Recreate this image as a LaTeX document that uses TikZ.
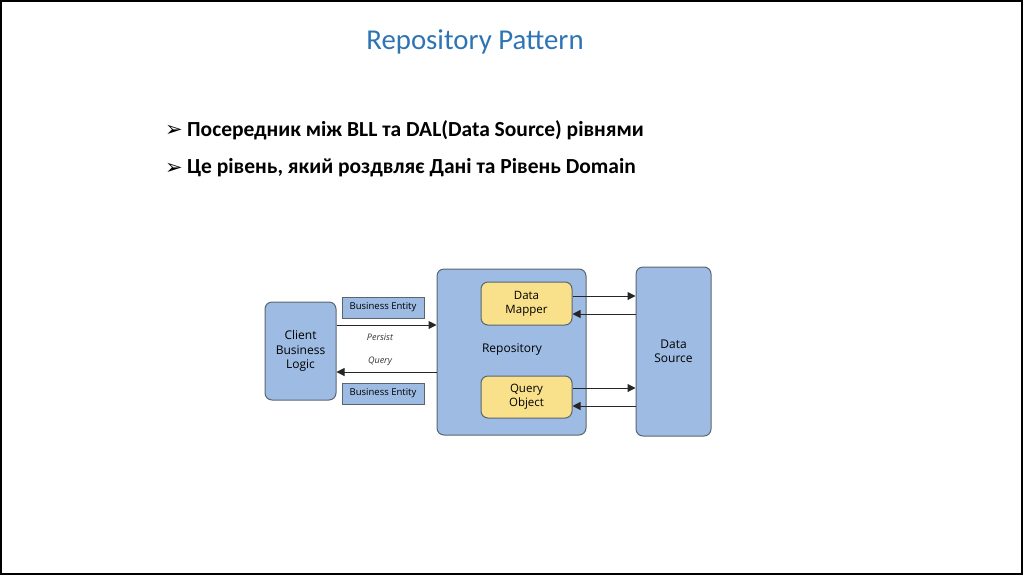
\documentclass[tikz,border=0pt]{standalone}
\usepackage{fontspec}
\setmainfont{Carlito}
\newfontfamily\symfont{DejaVu Sans}
\newfontfamily\diafont{Open Sans}
\usetikzlibrary{arrows.meta}
\definecolor{titleblue}{HTML}{2E74B5}
\definecolor{boxblue}{HTML}{9DBBE3}
\definecolor{boxyellow}{HTML}{F9E08A}
\definecolor{edgegray}{HTML}{5B6570}
\begin{document}
\begin{tikzpicture}[x=1pt,y=-1pt,
  blk/.style={draw=edgegray,line width=1pt,fill=boxblue,rounded corners=7pt,align=center,inner sep=0pt,font=\diafont\fontsize{12}{14.5}\selectfont},
  ybox/.style={draw=edgegray,line width=1pt,fill=boxyellow,rounded corners=7pt,align=center,inner sep=0pt,font=\diafont\fontsize{11.5}{14}\selectfont},
  ent/.style={draw=edgegray,line width=0.8pt,fill=boxblue,inner sep=0pt,font=\diafont\fontsize{9.5}{11}\selectfont},
  conn/.style={line width=1pt,draw=black!85,-{Triangle[length=8pt,width=8pt]}},
  lbl/.style={font=\diafont\itshape\fontsize{9}{11}\selectfont,text=black!80},
  bullet/.style={anchor=west,font=\bfseries\fontsize{21.5}{25}\selectfont,inner sep=0pt},
  bmark/.style={anchor=west,inner sep=0pt,font=\symfont\fontsize{21}{23}\selectfont}]
\useasboundingbox (0,0) rectangle (1024,576);
\draw[black,line width=1.5pt] (1,1) rectangle (1022,574);
\node[text=titleblue,font=\fontsize{28.8}{32}\selectfont] (title) at (475,42) {Repository Pattern};
\node[bmark] (b1) at (165,131) {➢};
\node[bullet] (t1) at (187,130) {Посередник між BLL та DAL(Data Source) рівнями};
\node[bmark] (b2) at (165,169) {➢};
\node[bullet] (t2) at (187,168) {Це рівень, який роздвляє Дані та Рівень Domain};
% diagram
\node[blk,minimum width=71pt,minimum height=98pt] (client) at (300.5,351) {Client\\Business\\Logic};
\node[ent,minimum width=82pt,minimum height=21pt] (be1) at (383,307.5) {Business Entity};
\node[ent,minimum width=82pt,minimum height=21pt] (be2) at (383,393.5) {Business Entity};
\node[blk,minimum width=149pt,minimum height=166pt] (repo) at (511.5,352) {};
\node[font=\diafont\fontsize{12}{14}\selectfont] (repolbl) at (512,350) {Repository};
\node[ybox,minimum width=91pt,minimum height=43pt] (dm) at (526.5,303.5) {Data\\Mapper};
\node[ybox,minimum width=91pt,minimum height=42pt] (qo) at (526.5,397) {Query\\Object};
\node[blk,minimum width=75pt,minimum height=169pt] (ds) at (673.5,351.5) {Data\\Source};
% connectors
\draw[conn] (client.east |- 0,325) -- (repo.west |- 0,325);
\draw[conn] (repo.west |- 0,372) -- (client.east |- 0,372);
\node[lbl] (persist) at (380,337) {Persist};
\node[lbl] (query) at (380,361) {Query};
\draw[conn] (dm.east |- 0,296) -- (ds.west |- 0,296);
\draw[conn] (ds.west |- 0,314) -- (dm.east |- 0,314);
\draw[conn] (qo.east |- 0,388) -- (ds.west |- 0,388);
\draw[conn] (ds.west |- 0,406) -- (qo.east |- 0,406);
\end{tikzpicture}
\end{document}
